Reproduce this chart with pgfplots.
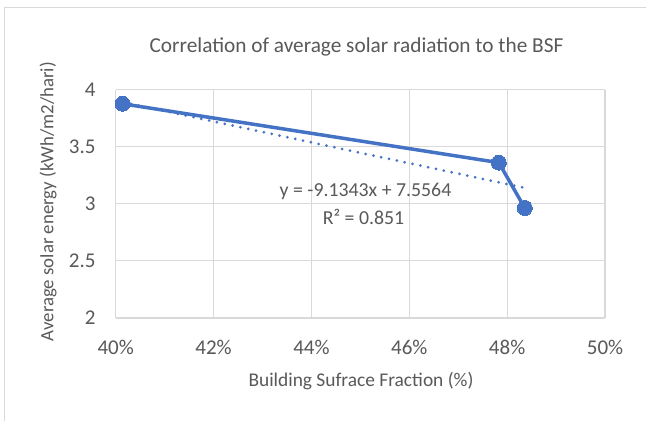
\documentclass[border=0pt]{standalone}
\usepackage{pgfplots}
\pgfplotsset{compat=1.18}
\usepackage{fontspec}
\setmainfont{Carlito}
\definecolor{exblue}{HTML}{4472C4}
\definecolor{gridc}{HTML}{D9D9D9}
\definecolor{txt}{HTML}{595959}
\begin{document}
\begin{tikzpicture}
\useasboundingbox (0bp,0bp) rectangle (646bp,-421bp);
\fill[white] (0bp,0bp) rectangle (646bp,-421bp);
\draw[gridc, line width=1bp] (4bp,-430bp) -- (4bp,-7bp) -- (660bp,-7bp);
\begin{axis}[
  scale only axis, width=489.3bp, height=228.5bp,
  at={(115.7bp,-318bp)}, anchor=south west,
  xmin=40, xmax=50, ymin=2, ymax=4,
  xtick={40,42,44,46,48,50},
  xticklabels={40\%,42\%,44\%,46\%,48\%,50\%},
  ytick={2,2.5,3,3.5,4},
  /pgf/number format/assume math mode=true,
  major tick length=0pt,
  axis line style={draw=gridc, line width=1.2bp},
  grid=major,
  major grid style={draw=gridc, line width=1.2bp},
  axis x line*=bottom, axis y line*=left,
  tick label style={font=\fontsize{21bp}{24bp}\selectfont, text=txt, inner sep=0pt},
  yticklabel style={anchor=east, xshift=-20bp},
  xticklabel style={anchor=base, yshift=-36bp},
  clip=false,
]
\addplot[exblue, line width=3.5bp, mark=*, mark size=7.5bp,
  mark options={fill=exblue, draw=exblue, line width=0pt}]
  coordinates {(40.14,3.875) (47.83,3.36) (48.36,2.963)};
\addplot[exblue, line width=3bp, line cap=round, dash pattern=on 0bp off 8bp]
  coordinates {(40.15,3.889) (48.36,3.139)};
\end{axis}
\node[anchor=base, text=txt, font=\fontsize{21.3bp}{24bp}\selectfont] at (356.5bp,-52bp) {Correlation of average solar radiation to the BSF};
\node[anchor=base, text=txt, font=\fontsize{19.4bp}{22bp}\selectfont] at (361bp,-386bp) {Building Sufrace Fraction (\%)};
\node[anchor=base, rotate=90, text=txt, font=\fontsize{18.8bp}{22bp}\selectfont] at (53.3bp,-201.7bp) {Average solar energy (kWh/m2/hari)};
\node[anchor=base, text=txt, font=\fontsize{19.8bp}{22bp}\selectfont] at (365.5bp,-196.7bp) {y = -9.1343x + 7.5564};
\node[anchor=base, text=txt, font=\fontsize{19.8bp}{22bp}\selectfont] at (363.5bp,-224bp) {R² = 0.851};
\end{tikzpicture}
\end{document}
